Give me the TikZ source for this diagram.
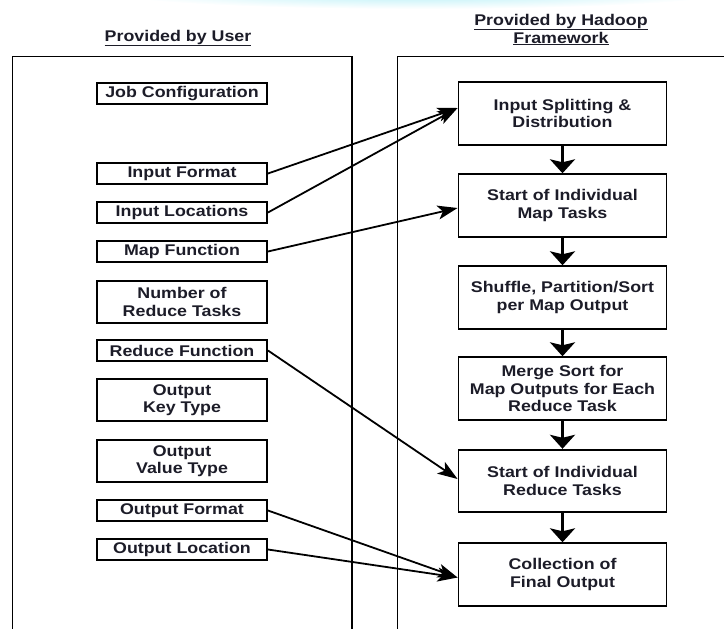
\documentclass[tikz,border=0pt]{standalone}
\usepackage{fontspec}
\setmainfont{Liberation Sans}[FakeStretch=1.15]
\usetikzlibrary{arrows.meta,shadings}
\definecolor{txt}{RGB}{28,28,40}
\definecolor{glow}{RGB}{175,238,246}
\begin{document}
\begin{tikzpicture}[x=1pt,y=-1pt,
  every node/.style={font=\fontsize{15.5}{17.5}\selectfont\bfseries, text=txt, align=center},
  ubox/.style={draw=black, line width=1.9pt, minimum width=170pt, inner sep=0pt, minimum height=21pt},
  ubox2/.style={ubox, minimum height=41.5pt},
  hbox/.style={draw=black, line width=1.9pt, minimum width=208pt, minimum height=62.5pt, inner sep=0pt},
  panel/.style={draw=black, line width=1.9pt},
  flow/.style={line width=3.6pt, -{Stealth[length=14pt,width=25pt,inset=3pt]}},
  feed/.style={line width=1.8pt, -{Stealth[length=20pt,width=14pt,inset=5pt]}},
  hdr/.style={font=\fontsize{15.5}{18}\selectfont\bfseries}
]
\useasboundingbox (0,0) rectangle (724,629);
\begin{scope}
\clip (0,0) rectangle (724,629);
% faint glow at the top edge
\shade[inner color=glow, outer color=white] (420,-8) ellipse [x radius=310pt, y radius=17pt];
% panels
\draw[panel] (12.5,640) -- (12.5,56.5) -- (352,56.5) -- (352,640);
\draw[panel] (397.5,640) -- (397.5,56.5) -- (740,56.5);
\end{scope}

% headers
\node[hdr] (huser) at (178,38) {\underline{Provided by User}};
\node[hdr] (hhad) at (561,29.5) {\underline{Provided by Hadoop}\\\underline{Framework}};

% user boxes
\node[ubox]  (job)  at (182,93.5)  {Job Configuration};
\node[ubox]  (ifmt) at (182,173.5) {Input Format};
\node[ubox]  (iloc) at (182,212.5) {Input Locations};
\node[ubox]  (mapf) at (182,251.5) {Map Function};
\node[ubox2] (nred) at (182,302)   {Number of\\Reduce Tasks};
\node[ubox]  (redf) at (182,350.5) {Reduce Function};
\node[ubox2] (okey) at (182,400)   {Output\\Key Type};
\node[ubox2] (oval) at (182,461)   {Output\\Value Type};
\node[ubox]  (ofmt) at (182,510.5) {Output Format};
\node[ubox]  (oloc) at (182,549.5) {Output Location};

% hadoop boxes
\node[hbox] (split)   at (562.5,113.5) {Input Splitting \&\\Distribution};
\node[hbox] (mapt)    at (562.5,205.5) {Start of Individual\\Map Tasks};
\node[hbox] (shuffle) at (562.5,297.5) {Shuffle, Partition/Sort\\per Map Output};
\node[hbox] (merge)   at (562.5,388.5) {Merge Sort for\\Map Outputs for Each\\Reduce Task};
\node[hbox] (redt)    at (562.5,481)   {Start of Individual\\Reduce Tasks};
\node[hbox] (coll)    at (562.5,574.5) {Collection of\\Final Output};

% flow arrows
\draw[flow] (split.south) -- (mapt.north);
\draw[flow] (mapt.south) -- (shuffle.north);
\draw[flow] (shuffle.south) -- (merge.north);
\draw[flow] (merge.south) -- (redt.north);
\draw[flow] (redt.south) -- (coll.north);

% feeds
\draw[feed] (ifmt.east) -- ([yshift=5.5pt]split.west);
\draw[feed] (iloc.east) -- ([yshift=5.5pt]split.west);
\draw[feed] (mapf.east) -- ([yshift=-2.5pt]mapt.west);
\draw[feed] (redf.east) -- ([yshift=2pt]redt.west);
\draw[feed] (ofmt.east) -- ([yshift=-3pt]coll.west);
\draw[feed] (oloc.east) -- ([yshift=-3pt]coll.west);
\end{tikzpicture}
\end{document}
